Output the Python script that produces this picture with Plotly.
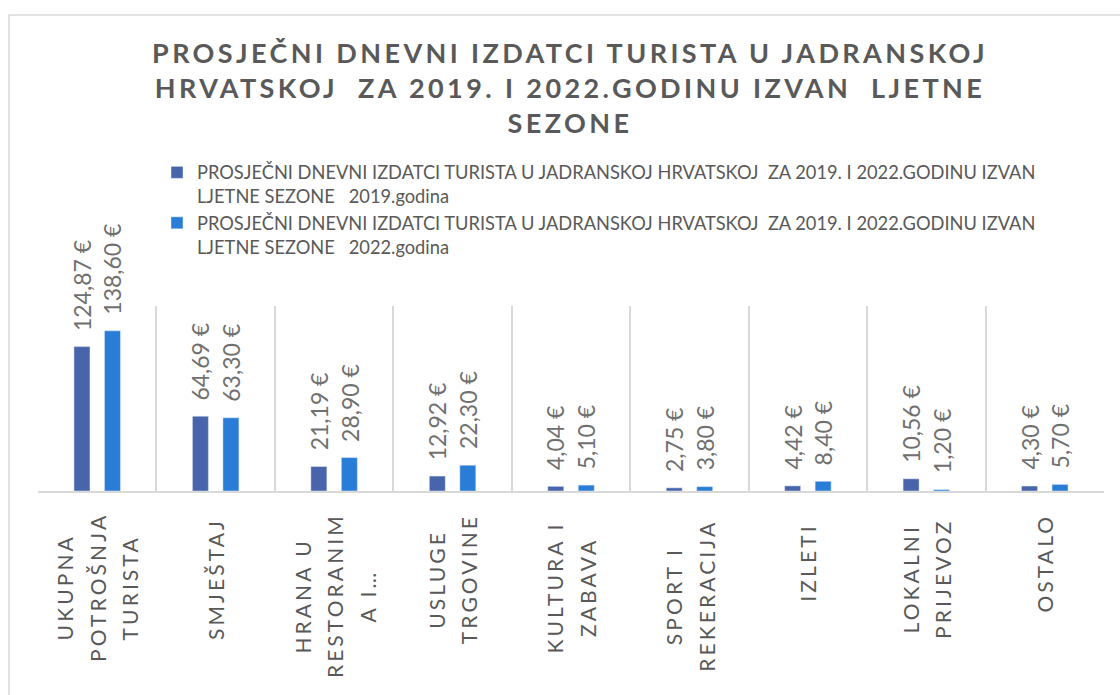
import plotly.graph_objects as go

categories = [
    ["UKUPNA", "POTROŠNJA", "TURISTA"],
    ["SMJEŠTAJ"],
    ["HRANA U", "RESTORANIM", "A I…"],
    ["USLUGE", "TRGOVINE"],
    ["KULTURA I", "ZABAVA"],
    ["SPORT I", "REKERACIJA"],
    ["IZLETI"],
    ["LOKALNI", "PRIJEVOZ"],
    ["OSTALO"],
]
cat_keys = [" ".join(c) for c in categories]
values_2019 = [124.87, 64.69, 21.19, 12.92, 4.04, 2.75, 4.42, 10.56, 4.30]
values_2022 = [138.60, 63.30, 28.90, 22.30, 5.10, 3.80, 8.40, 1.20, 5.70]
series_base = "PROSJEČNI DNEVNI IZDATCI TURISTA U JADRANSKOJ HRVATSKOJ  ZA 2019. I 2022.GODINU IZVAN<br>LJETNE SEZONE   "
series_names = [series_base + "2019.godina", series_base + "2022.godina"]
title_lines = [
    "PROSJEČNI DNEVNI IZDATCI TURISTA U JADRANSKOJ",
    "HRVATSKOJ  ZA 2019. I 2022.GODINU IZVAN  LJETNE",
    "SEZONE",
]

W, H = 1120, 695
L, R, T, B = 38, 16, 306, 204
C1, C2 = "#4865ab", "#2a7dd6"
GRAY = "#595959"
LBL = "#707070"
FONT = "Lato"


def eur(v):
    return f"{v:.2f}".replace(".", ",") + " €"


fig = go.Figure()
fig.add_trace(go.Bar(x=cat_keys, y=values_2019, name=series_names[0], marker_color=C1))
fig.add_trace(go.Bar(x=cat_keys, y=values_2022, name=series_names[1], marker_color=C2))

ann = []
# data labels
for vals, shift in ((values_2019, -15.25), (values_2022, 15.25)):
    for k, v in zip(cat_keys, vals):
        ann.append(dict(x=k, y=v, xref="x", yref="y", text=eur(v), showarrow=False,
                        textangle=-90, xanchor="center", yanchor="bottom",
                        xshift=shift, yshift=14,
                        font=dict(family=FONT, size=23, color=LBL)))

# category labels (rotated, letter-spaced)
PER_CHAR = 16.6
LINE_GAP = 32.5
for k, lines in zip(cat_keys, categories):
    n = len(lines)
    lmax = max(len(s) for s in lines) * PER_CHAR
    center = 513 + lmax / 2
    for i, s in enumerate(lines):
        ann.append(dict(x=k, y=0, xref="x", yref="paper",
                        text=f'<span style="letter-spacing:3.1px">{s}</span>',
                        showarrow=False, textangle=-90, xanchor="center", yanchor="middle",
                        xshift=(i - (n - 1) / 2) * LINE_GAP, yshift=-(center - (H - B)),
                        font=dict(family=FONT, size=21, color=GRAY)))

title_html = "<br>".join(title_lines)
fig.update_layout(
    width=W, height=H, autosize=False,
    margin=dict(l=L, r=R, t=T, b=B, autoexpand=False),
    paper_bgcolor="white", plot_bgcolor="white",
    barmode="group", bargap=0.485, bargroupgap=0.4755,
    title=dict(text=f'<span style="letter-spacing:3.4px">{title_html}</span>',
               x=570 / W, xanchor="center", xref="container",
               y=1 - 63 / H, yanchor="top", yref="container",
               font=dict(family=FONT, size=27, color=GRAY, weight="bold")),
    legend=dict(x=157 / W, xref="container", xanchor="left",
                y=1 - 154 / H, yref="container", yanchor="top",
                font=dict(family=FONT, size=18.25, color=GRAY),
                valign="top", bgcolor="rgba(0,0,0,0)", tracegroupgap=1),
    xaxis=dict(type="category", range=[-0.5, 8.5], showgrid=True, gridcolor="#d9d9d9",
               gridwidth=1.5, tickson="boundaries", showticklabels=False, ticks="",
               showline=True, linecolor="#d9d9d9", linewidth=1.5, zeroline=False),
    yaxis=dict(range=[0, 160], showgrid=False, showticklabels=False, zeroline=False,
               showline=False, ticks=""),
    annotations=ann,
    showlegend=True,
)

# outer chart frame (cropped chart border)
pw, ph = W - L - R, H - T - B
def px_x(p):
    return (p - L) / pw
def px_y(p):
    return (H - B - p) / ph
fig.add_shape(type="rect", xref="paper", yref="paper",
              x0=px_x(9), x1=px_x(1130), y0=px_y(705), y1=px_y(15),
              line=dict(color="#d9d9d9", width=1.5), fillcolor="rgba(0,0,0,0)", layer="below")

fig.write_html("out.html", config={"displayModeBar": False},
               post_script="document.body.style.margin='0';")
